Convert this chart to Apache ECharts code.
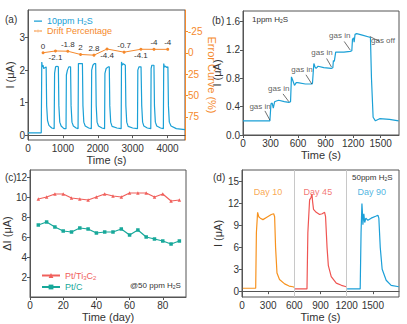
<!DOCTYPE html>
<html>
<head>
<meta charset="utf-8">
<script src="https://cdn.jsdelivr.net/npm/echarts@6/dist/echarts.min.js"></script>
<style>
  html, body { margin: 0; padding: 0; background: #fff; }
  #chart { width: 407px; height: 324px; }
</style>
</head>
<body>
<div id="chart"></div>
<script>
// ---------- (a) repeated exposure to 10 ppm H2S ----------
const aCurrent = [
  [0,0.07],[380,0.07],[395,2.25],[410,2.1],[430,2.15],[450,2.05],[520,2.1],[535,0.9],[560,0.45],[600,0.3],[680,0.22],[750,0.2],
  [762,1.9],[790,2.1],[830,2.12],[870,2.1],[885,0.9],[910,0.4],[950,0.28],[1030,0.2],[1090,0.2],
  [1100,1.85],[1130,2.0],[1170,2.1],[1220,2.1],[1235,0.9],[1260,0.4],[1300,0.28],[1380,0.22],[1435,0.2],
  [1445,2.2],[1480,2.2],[1560,2.2],[1575,0.9],[1600,0.4],[1640,0.28],[1740,0.22],[1815,0.2],
  [1825,2.0],[1860,2.15],[1900,2.2],[1940,2.2],[1955,0.9],[1980,0.4],[2020,0.28],[2120,0.22],[2195,0.2],
  [2205,1.9],[2240,2.05],[2300,2.1],[2330,2.1],[2345,0.9],[2370,0.4],[2410,0.27],[2550,0.22],[2670,0.2],
  [2680,2.25],[2700,2.15],[2730,2.2],[2790,2.15],[2805,0.9],[2830,0.4],[2870,0.27],[3000,0.22],[3138,0.2],
  [3148,2.0],[3180,2.1],[3240,2.1],[3260,0.9],[3285,0.4],[3320,0.28],[3420,0.22],[3519,0.2],
  [3529,2.05],[3550,2.15],[3610,2.15],[3625,0.9],[3650,0.4],[3690,0.28],[3800,0.22],[3880,0.2],
  [3890,2.2],[3910,2.1],[3940,2.12],[3980,2.08],[4010,2.1],[4025,0.9],[4050,0.4],[4100,0.28],[4250,0.2],[4500,0.17]
];
const aDriftTime = [432, 787, 1141, 1507, 1891, 2265, 2755, 3236, 3611, 4005];
const aDrift = [0, -2.1, -1.8, 2, 2.8, -4.4, -0.7, -4.1, -4, -4];
const aTimeTicks = [0, 1000, 2000, 3000, 4000];
const aCurrentTicks = [0, 1, 2, 3];
const aErrorTicks = [-25, 0, 25, 50, 75];

// ---------- (b) stepwise 1 ppm H2S additions ----------
const bCurrent = [
  [0,0.2],[293,0.2],[305,0.44],[318,0.45],[330,0.38],[345,0.47],[364,0.48],[389,0.49],[450,0.47],[500,0.46],
  [518,0.47],[528,0.82],[540,0.78],[561,0.7],[580,0.74],[596,0.74],[680,0.72],[750,0.72],
  [757,0.73],[772,1.01],[785,0.96],[796,0.94],[818,0.97],[880,0.95],[961,0.94],
  [979,0.95],[985,1.05],[995,1.04],[1010,1.17],[1100,1.17],[1168,1.18],
  [1186,1.19],[1193,1.35],[1205,1.37],[1211,1.31],[1221,1.42],[1239,1.43],[1300,1.41],[1382,1.38],
  [1389,1.37],[1400,0.8],[1418,0.25],[1443,0.2],[1489,0.23],[1596,0.22],[1696,0.2]
];
const bArrowTail = [[239,0.34],[436,0.58],[686,0.85],[911,1.08],[1103,1.32],[1489,1.32]];
const bArrowHead = [[293,0.21],[500,0.47],[750,0.72],[964,0.96],[1168,1.2],[1382,1.39]];
const bNoteAt = [[186,0.40],[389,0.66],[643,0.93],[861,1.17],[1054,1.41],[1525,1.33]];
const bNoteText = ['gas in','gas in','gas in','gas in','gas in','gas off'];
const bTimeTicks = [0, 300, 600, 900, 1200, 1500];
const bCurrentTicks = [0, 0.4, 0.8, 1.2, 1.6];

// ---------- (c) long-term stability at 50 ppm H2S ----------
const cDays = [5,10,15,20,25,30,35,40,45,50,55,60,65,70,75,80,85,90];
const cPtTi3C2 = [9.8,10.0,10.3,10.3,9.9,9.8,9.7,10.0,10.3,10.1,10.0,10.4,10.4,10.4,10.0,10.3,9.6,9.7];
const cPtC = [7.2,7.5,7.0,6.6,6.5,6.9,6.8,6.4,6.5,6.5,6.8,6.2,6.7,6.0,5.8,5.6,5.3,5.6];
const cDayTicks = [0, 20, 40, 60, 80];
const cDeltaTicks = [2, 4, 6, 8, 10, 12];

// ---------- (d) responses on day 10, 45 and 90 ----------
const dDay10 = [
  [10,0.4],[157,0.4],[165,8],[179,10.8],[192,10.2],[210,10.0],[240,9.8],[280,10.1],[336,10.5],[363,10.6],
  [374,10.2],[385,6],[401,2.5],[430,1.6],[489,1.0],[540,0.7],[584,0.6],[603,0.5]
];
const dDay45 = [
  [605,0.3],[745,0.3],[755,8],[775,12.5],[790,12.8],[802,13.3],[810,12.2],[820,11.2],[851,10.8],[890,10.5],
  [920,10.6],[947,10.8],[958,10.2],[975,6],[990,3.5],[1023,2],[1081,1.1],[1140,0.8],[1195,0.6]
];
const dDay90 = [
  [1205,0.3],[1355,0.3],[1365,8],[1375,12],[1382,10.5],[1386,9.1],[1397,10.6],[1407,9.4],[1420,10],[1443,9.7],
  [1481,10],[1539,10.3],[1558,10.4],[1569,10],[1585,6],[1607,3],[1653,1.5],[1710,0.8],[1798,0.6]
];
const dDividers = [600, 1200];
const dTimeTicks = [0, 300, 600, 900, 1200, 1500];
const dCurrentTicks = [0, 3, 6, 9, 12, 15];

// ---------- styling ----------
const FONT = 'Liberation Sans, Arial, sans-serif';
const INK = '#333';
const FRAME = '#555';
const BLUE = '#1aa0d6';
const ORANGE = '#f5892c';
const RED = '#f0605c';
const TEAL = '#17a89a';
const DAY10 = '#f7921e';
const DAY45 = '#ef5552';
const DAY90 = '#1b9fd8';

// legend glyphs: a plain line, and a line with a dot (corner specks keep an 8x8 box)
const ICON_LINE = 'path://M0,3.4h8v1.3h-8z M0,0h0.01v0.01h-0.01z M8,8h-0.01v-0.01h0.01z';
const ICON_LINE_DOT = 'path://M0,3.5h8v1h-8z M2.7,4a1.3,1.3 0 1,0 2.6,0a1.3,1.3 0 1,0 -2.6,0z M0,0h0.01v0.01h-0.01z M8,8h-0.01v-0.01h0.01z';

const driftLabelSide = ['top','bottom','top','top','top','bottom','top','bottom','top','top'];
const SUB = { fontSize: 6, padding: [4, 0, 0, 0], fontFamily: FONT };
const plain = v => String(v);

function valueAxis(gridIndex, min, max, ticks, extra) {
  return Object.assign({
    type: 'value', gridIndex, min, max,
    axisLine: { show: true, lineStyle: { color: FRAME, width: 1 } },
    axisTick: { show: true, inside: false, length: 3, customValues: ticks, lineStyle: { color: FRAME } },
    axisLabel: { customValues: ticks, fontSize: 10, color: INK, fontFamily: FONT, margin: 3, formatter: plain },
    splitLine: { show: false },
    nameLocation: 'middle',
    nameTextStyle: { fontSize: 11, color: INK, fontFamily: FONT }
  }, extra || {});
}

const chart = echarts.init(document.getElementById('chart'), null, { renderer: 'svg' });

const gridBox = { show: true, borderColor: FRAME, borderWidth: 1, containLabel: false };

const option = {
  animation: false,
  textStyle: { fontFamily: FONT },
  grid: [
    Object.assign({ left: 28, top: 10, width: 157, height: 130 }, gridBox),
    Object.assign({ left: 243, top: 11, width: 156, height: 124 }, gridBox),
    Object.assign({ left: 29, top: 170, width: 157, height: 127 }, gridBox),
    Object.assign({ left: 242, top: 170, width: 157, height: 127 }, gridBox)
  ],
  xAxis: [
    valueAxis(0, 0, 4500, aTimeTicks, { name: 'Time (s)', nameGap: 14 }),
    valueAxis(1, 0, 1700, bTimeTicks, { name: 'Time (s)', nameGap: 14 }),
    valueAxis(2, 0, 94, cDayTicks, { name: 'Time (day)', nameGap: 14 }),
    valueAxis(3, 0, 1800, dTimeTicks, { name: 'Time (s)', nameGap: 14 })
  ],
  yAxis: [
    valueAxis(0, -0.15, 3.85, aCurrentTicks, { name: 'I (μA)', nameGap: 11 }),
    valueAxis(0, -50, 102, aErrorTicks, {
      position: 'right', inverse: true, name: 'Error Curve (%)', nameGap: 20, nameRotate: -90,
      axisLine: { show: true, lineStyle: { color: ORANGE, width: 1 } },
      axisTick: { show: true, length: 3, customValues: aErrorTicks, lineStyle: { color: ORANGE } },
      axisLabel: { customValues: aErrorTicks, fontSize: 10, color: ORANGE, fontFamily: FONT, margin: 3, formatter: plain },
      nameTextStyle: { fontSize: 11, color: ORANGE, fontFamily: FONT }
    }),
    valueAxis(1, 0, 1.75, bCurrentTicks, {
      name: 'I (μA)', nameGap: 4,
      axisLabel: { customValues: bCurrentTicks, fontSize: 10, color: INK, fontFamily: FONT, margin: 3,
        formatter: v => v.toFixed(1) }
    }),
    valueAxis(2, 0, 12.7, cDeltaTicks, { name: 'ΔI (μA)', nameGap: 14 }),
    valueAxis(3, -0.8, 16.6, dCurrentTicks, { name: 'I (μA)', nameGap: 17 })
  ],
  legend: [
    {
      orient: 'vertical', left: 34, top: 16, itemGap: 0, itemWidth: 8, itemHeight: 8, padding: 0,
      textStyle: { fontSize: 9, fontFamily: FONT, lineHeight: 10, rich: { s: SUB } },
      formatter: n => n === '10ppm H2S' ? '10ppm H{s|2}S' : n,
      data: [
        { name: '10ppm H2S', icon: ICON_LINE, textStyle: { color: BLUE, rich: { s: Object.assign({ color: BLUE }, SUB) } } },
        { name: 'Drift Percentage', icon: ICON_LINE_DOT, textStyle: { color: ORANGE } }
      ]
    },
    {
      orient: 'vertical', left: 36, top: 266, itemGap: 2, itemWidth: 18, itemHeight: 6,
      textStyle: { fontSize: 9, fontFamily: FONT, rich: { s: SUB } },
      formatter: n => n === 'Pt/Ti3C2' ? 'Pt/Ti{s|3}C{s|2}' : n,
      data: [
        { name: 'Pt/Ti3C2', textStyle: { color: RED, rich: { s: Object.assign({ color: RED }, SUB) } } },
        { name: 'Pt/C', textStyle: { color: TEAL } }
      ]
    }
  ],
  graphic: [
    { type: 'text', left: 5, top: 14, style: { text: '(a)', fontSize: 10, fill: INK, fontFamily: FONT } },
    { type: 'text', left: 212, top: 15, style: { text: '(b)', fontSize: 10, fill: INK, fontFamily: FONT } },
    { type: 'text', left: 5, top: 172, style: { text: '(c)', fontSize: 10, fill: INK, fontFamily: FONT } },
    { type: 'text', left: 213, top: 172, style: { text: '(d)', fontSize: 10, fill: INK, fontFamily: FONT } },
    { type: 'text', left: 252, top: 15, style: { text: '1ppm H{s|2}S', fontSize: 8, fill: INK, fontFamily: FONT,
        rich: { s: { fontSize: 5, padding: [3, 0, 0, 0], fill: INK } } } },
    { type: 'text', left: 352, top: 173, style: { text: '50ppm H{s|2}S', fontSize: 8, fill: INK, fontFamily: FONT,
        rich: { s: { fontSize: 5, padding: [3, 0, 0, 0], fill: INK } } } },
    { type: 'text', left: 130, top: 281, style: { text: '@50 ppm H{s|2}S', fontSize: 8, fill: INK, fontFamily: FONT,
        rich: { s: { fontSize: 5, padding: [3, 0, 0, 0], fill: INK } } } }
  ],
  series: [
    {
      name: '10ppm H2S', type: 'line', xAxisIndex: 0, yAxisIndex: 0, data: aCurrent,
      symbol: 'none', color: BLUE, lineStyle: { color: BLUE, width: 1.2 }, z: 2
    },
    {
      name: 'Drift Percentage', type: 'line', xAxisIndex: 0, yAxisIndex: 1,
      data: aDriftTime.map((t, i) => ({
        value: [t, aDrift[i]],
        label: { position: driftLabelSide[i] }
      })),
      symbol: 'circle', symbolSize: 3, color: ORANGE,
      lineStyle: { color: ORANGE, width: 1 }, itemStyle: { color: ORANGE },
      label: { show: true, fontSize: 8, lineHeight: 8, color: INK, fontFamily: FONT, distance: 1,
        formatter: p => String(p.value[1]) },
      z: 3
    },
    {
      name: 'b', type: 'line', xAxisIndex: 1, yAxisIndex: 2, data: bCurrent,
      symbol: 'none', lineStyle: { color: BLUE, width: 1.2 }, color: BLUE,
      markLine: {
        silent: true, symbol: ['none', 'arrow'], symbolSize: [0, 5],
        lineStyle: { color: '#333', width: 0.7, type: 'solid' },
        label: { show: false },
        data: bArrowTail.map((p, i) => [{ coord: p }, { coord: bArrowHead[i] }])
      }
    },
    {
      name: 'bNotes', type: 'scatter', xAxisIndex: 1, yAxisIndex: 2, symbolSize: 0,
      data: bNoteAt.map((p, i) => ({ value: p, name: bNoteText[i] })),
      label: { show: true, position: 'inside', formatter: p => p.name, fontSize: 8, color: INK, fontFamily: FONT },
      silent: true
    },
    {
      name: 'Pt/Ti3C2', type: 'line', xAxisIndex: 2, yAxisIndex: 3,
      data: cDays.map((d, i) => [d, cPtTi3C2[i]]),
      symbol: 'triangle', symbolSize: 3.5, color: RED,
      lineStyle: { color: RED, width: 1.2 }, itemStyle: { color: RED }
    },
    {
      name: 'Pt/C', type: 'line', xAxisIndex: 2, yAxisIndex: 3,
      data: cDays.map((d, i) => [d, cPtC[i]]),
      symbol: 'rect', symbolSize: 3.5, color: TEAL,
      lineStyle: { color: TEAL, width: 1.2 }, itemStyle: { color: TEAL }
    },
    {
      name: 'Day 10', type: 'line', xAxisIndex: 3, yAxisIndex: 4, data: dDay10,
      symbol: 'none', lineStyle: { color: DAY10, width: 1.2 },
      markLine: {
        silent: true, symbol: 'none', label: { show: false },
        lineStyle: { color: '#c8c8c8', width: 1, type: 'solid' },
        data: dDividers.map(x => ({ xAxis: x }))
      }
    },
    { name: 'Day 45', type: 'line', xAxisIndex: 3, yAxisIndex: 4, data: dDay45,
      symbol: 'none', lineStyle: { color: DAY45, width: 1.2 } },
    { name: 'Day 90', type: 'line', xAxisIndex: 3, yAxisIndex: 4, data: dDay90,
      symbol: 'none', lineStyle: { color: DAY90, width: 1.2 } },
    {
      name: 'dNotes', type: 'scatter', xAxisIndex: 3, yAxisIndex: 4, symbolSize: 0, silent: true,
      data: [
        { value: [297, 13.6], name: 'Day 10', label: { color: DAY10 } },
        { value: [870, 13.6], name: 'Day 45', label: { color: DAY45 } },
        { value: [1489, 13.6], name: 'Day 90', label: { color: DAY90 } }
      ],
      label: { show: true, position: 'inside', formatter: p => p.name, fontSize: 9, fontFamily: FONT }
    }
  ]
};

chart.setOption(option);
</script>
</body>
</html>
